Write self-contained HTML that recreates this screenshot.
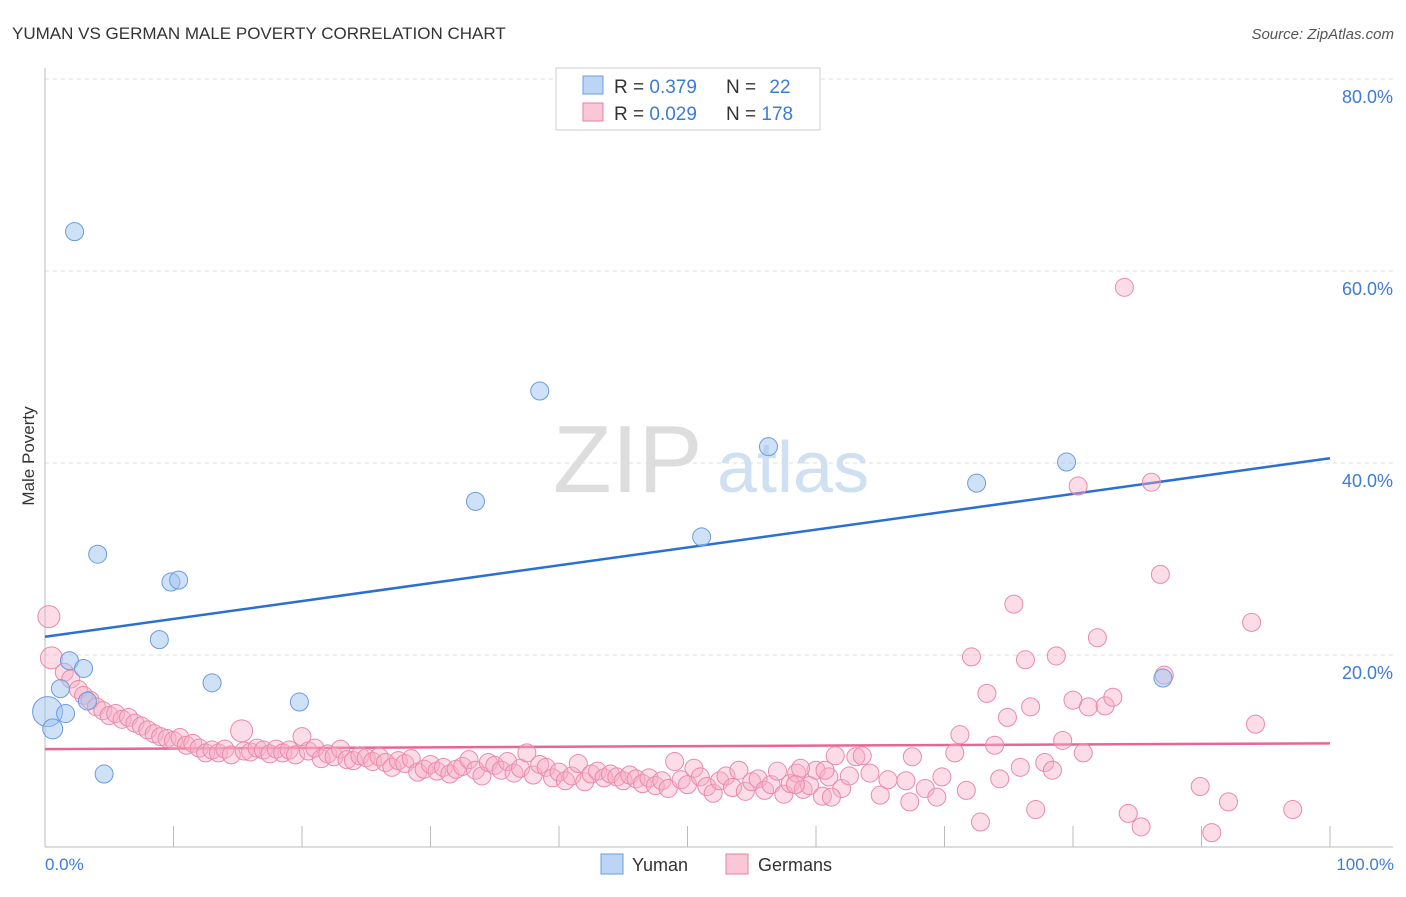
<!DOCTYPE html>
<html><head><meta charset="utf-8"><style>
body{margin:0;background:#fff;font-family:"Liberation Sans",sans-serif}
svg text{font-family:"Liberation Sans",sans-serif}
</style></head><body>
<svg id="chart" width="1406" height="892">
<text x="12" y="39" font-size="17" fill="#333">YUMAN VS GERMAN MALE POVERTY CORRELATION CHART</text>
<text x="1394" y="39" font-size="15" fill="#555" font-style="italic" text-anchor="end">Source: ZipAtlas.com</text>
<g>
<text x="553" y="492" font-family="Liberation Serif,serif" font-size="96" fill="#ddd">ZIP</text>
<text x="717" y="492" font-size="72" fill="#cfe0f3">atlas</text>
</g>
<g id="grid"></g>
<g id="axes"></g>
<g id="trends"></g>
<g id="pts"></g>
<text transform="translate(34,456) rotate(-90)" font-size="17" fill="#333" text-anchor="middle">Male Poverty</text>
<text x="45" y="870" font-size="17" fill="#3d7bd8">0.0%</text>
<text x="1394" y="870" font-size="17" fill="#3d7bd8" text-anchor="end">100.0%</text>
<g>
<rect x="556" y="68" width="264" height="62" fill="#fff" stroke="#ccc"/>
<rect x="583" y="76" width="20" height="18" fill="#bcd5f5" stroke="#6a9be0"/>
<rect x="583" y="103" width="20" height="18" fill="#f9c7d6" stroke="#e87fa0"/>
<text x="614" y="93" font-size="19" fill="#333">R = <tspan fill="#3d7bd8">0.379</tspan></text>
<text x="726" y="93" font-size="19" fill="#333">N = <tspan fill="#3d7bd8" dx="8">22</tspan></text>
<text x="614" y="120" font-size="19" fill="#333">R = <tspan fill="#3d7bd8">0.029</tspan></text>
<text x="726" y="120" font-size="19" fill="#333">N = <tspan fill="#3d7bd8">178</tspan></text>
</g>
<g>
<rect x="601" y="854" width="22" height="20" fill="#bcd5f5" stroke="#6a9be0"/>
<text x="632" y="871" font-size="18" fill="#333">Yuman</text>
<rect x="726" y="854" width="22" height="20" fill="#f9c7d6" stroke="#e87fa0"/>
<text x="758" y="871" font-size="18" fill="#333">Germans</text>
</g>
</svg>
<script>
const yTicks=[20,40,60,80];
const yTickLabels=["20.0%","40.0%","60.0%","80.0%"];
const xTicks=[10,20,30,40,50,60,70,80,90,100];
const yumanX=[2.3,4.1,9.8,10.4,8.9,13.0,19.8,4.6,33.5,38.5,51.1,56.3,72.5,79.5,87.0,0.2,0.6,1.6,1.2,1.9,3.0,3.3];
const yumanY=[64.1,30.5,27.6,27.8,21.6,17.1,15.1,7.6,36.0,47.5,32.3,41.7,37.9,40.1,17.6,14.1,12.3,13.9,16.5,19.4,18.6,15.2];
const yumanR=[9,9,9,9,9,9,9,9,9,9,9,9,9,9,9,15,10,9,9,9,9,9];
const germX=[0.3,0.5,1.5,2,2.6,3,3.5,4,4.5,5,5.5,6,6.5,7,7.5,8,8.5,9,9.5,10,10.5,11,11.5,12,12.5,13,13.5,14,14.5,15.3,15.5,16,16.5,17,17.5,18,18.5,19,19.5,20,20.5,21,21.5,22,22.5,23,23.5,24,24.5,25,25.5,26,26.5,27,27.5,28,28.5,29,29.5,30,30.5,31,31.5,32,32.5,33,33.5,34,34.5,35,35.5,36,36.5,37,37.5,38,38.5,39,39.5,40,40.5,41,41.5,42,42.5,43,43.5,44,44.5,45,45.5,46,46.5,47,47.5,48,48.5,49,49.5,50,50.5,51,51.5,52,52.5,53,53.5,54,54.5,55,55.5,56,56.5,57,57.5,58,58.5,59,59.5,60,60.5,61,61.5,62,84.0,80.4,86.1,86.8,75.4,81.9,93.9,72.1,76.3,78.7,73.3,74.9,76.7,80.0,81.2,82.5,83.1,87.1,94.2,71.2,73.9,79.2,80.8,70.8,69.8,74.3,75.9,77.8,78.4,67.5,67.0,68.5,69.4,67.3,71.7,72.8,77.1,84.3,85.3,89.9,92.1,90.8,97.1,65.0,65.6,63.1,63.6,62.6,64.2,61.2,60.7,58.8,58.4];
const germY=[24,19.7,18.2,17.5,16.4,15.8,15.3,14.6,14.2,13.7,13.9,13.3,13.5,12.9,12.6,12.2,11.8,11.5,11.3,11.1,11.4,10.6,10.8,10.3,9.8,10.1,9.8,10.2,9.6,12.1,10.0,9.9,10.3,10.1,9.7,10.2,9.8,10.1,9.6,11.5,10.0,10.3,9.2,9.7,9.4,10.2,9.1,9.0,9.5,9.3,8.9,9.4,8.8,8.3,9.0,8.7,9.2,7.8,8.1,8.6,7.9,8.3,7.6,8.1,8.4,9.1,8.0,7.4,8.8,8.5,8.0,8.9,7.7,8.2,9.8,7.5,8.6,8.3,7.2,7.8,6.9,7.4,8.7,6.8,7.6,7.9,7.2,7.6,7.3,6.9,7.5,7.1,6.6,7.2,6.4,6.9,6.1,8.9,7.0,6.5,8.2,7.3,6.3,5.6,6.9,7.4,6.2,8.0,5.8,6.8,7.1,5.9,6.5,7.9,5.5,6.6,7.7,6.0,6.4,8.0,5.3,7.3,9.5,6.1,58.3,37.6,38.0,28.4,25.3,21.8,23.4,19.8,19.5,19.9,16.0,13.5,14.6,15.3,14.6,14.7,15.6,17.9,12.8,11.7,10.6,11.1,9.8,9.8,7.3,7.1,8.3,8.8,8.0,9.4,6.9,6.1,5.2,4.7,5.9,2.6,3.9,3.5,2.1,6.3,4.7,1.5,3.9,5.4,7.0,9.4,9.5,7.4,7.7,5.2,8.0,8.2,6.5];
const yumanTrend=[21.9,40.5];
const germTrend=[10.2,10.8];
const NS="http://www.w3.org/2000/svg";
const X0=45,X1=1330,Y0=847,YPER=9.6;
function sx(v){return X0+(X1-X0)*v/100;}
function sy(v){return Y0-v*YPER;}
function mk(tag,attrs,parent){const e=document.createElementNS(NS,tag);for(const k in attrs)e.setAttribute(k,attrs[k]);document.getElementById(parent).appendChild(e);return e;}
yTicks.forEach((t,i)=>{
 const l=mk('line',{x1:45,x2:1393,y1:sy(t),y2:sy(t),stroke:'#ddd','stroke-dasharray':'4,4'},'grid');
 
 
 const tx=mk('text',{x:1393,y:sy(t)+24,'font-size':18,fill:'#3d7bd8','text-anchor':'end'},'grid');
 tx.textContent=yTickLabels[i];
 
 
});
const ax=mk('line',{x1:45,x2:45,y1:68,y2:847,stroke:'#bbb'},'axes');


const bx=mk('line',{x1:45,x2:1393,y1:847,y2:847,stroke:'#bbb'},'axes');


xTicks.forEach(t=>{
 const l=mk('line',{x1:sx(t),x2:sx(t),y1:826,y2:847,stroke:'#bbb'},'axes');
 
 
});
germX.forEach((v,i)=>{
 const r=(i<2||i==29)?11:9;
 const c=mk('circle',{cx:sx(v),cy:sy(germY[i]),r:r,fill:'rgba(248,175,198,0.42)',stroke:'#e98aa8','stroke-width':1},'pts');
 
 
});
yumanX.forEach((v,i)=>{
 const c=mk('circle',{cx:sx(v),cy:sy(yumanY[i]),r:yumanR[i],fill:'rgba(160,196,240,0.5)',stroke:'#6a9be0','stroke-width':1},'pts');
 
 
});
const t1=mk('line',{x1:sx(0),x2:sx(100),y1:sy(yumanTrend[0]),y2:sy(yumanTrend[1]),stroke:'#2a6fd6','stroke-width':2.5},'trends');


const t2=mk('line',{x1:sx(0),x2:sx(100),y1:sy(germTrend[0]),y2:sy(germTrend[1]),stroke:'#e8668f','stroke-width':2.5},'trends');


</script>
</body></html>
